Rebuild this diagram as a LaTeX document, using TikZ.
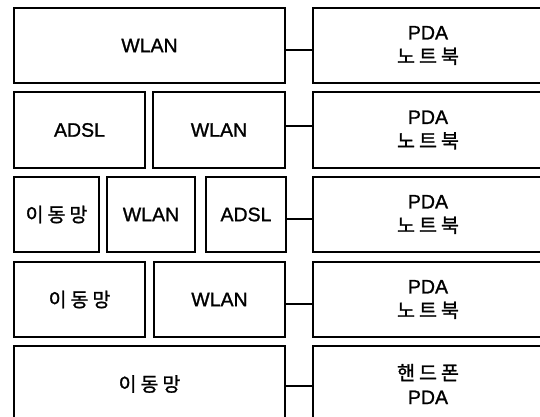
\documentclass[tikz,border=0pt]{standalone}
\usepackage{fontspec}
\setmainfont[FakeBold=1.2]{Liberation Sans}
\newfontfamily\kr[FakeBold=1.2]{Noto Sans CJK KR}
\newcommand{\nb}{{\kr 노\hspace{4pt}트\hspace{4pt}북}}
\newcommand{\idm}{{\kr 이\hspace{4pt}동\hspace{4pt}망}}
\newcommand{\hdp}{{\kr 핸\hspace{4pt}드\hspace{4pt}폰}}
\begin{document}
\begin{tikzpicture}[x=1pt,y=-1pt,
  box/.style={draw=black, line width=1.6pt, inner sep=0pt, align=center,
    font=\fontsize{19.5}{24}\selectfont},
  conn/.style={draw=black, line width=1.4pt}]
\useasboundingbox (0,0) rectangle (540,416);
\clip (0,0) rectangle (540,416);
% row 1
\node[box, minimum width=271pt, minimum height=75pt] (l1) at (149.5,45.5) {WLAN};
\node[box, minimum width=230pt, minimum height=75pt] (r1) at (428,45.5) {PDA\\\nb};
% row 2
\node[box, minimum width=131pt, minimum height=76pt] (l2a) at (79.5,130) {ADSL};
\node[box, minimum width=132pt, minimum height=76pt] (l2b) at (219,130) {WLAN};
\node[box, minimum width=230pt, minimum height=76pt] (r2) at (428,130) {PDA\\\nb};
% row 3
\node[box, minimum width=85pt, minimum height=75pt] (l3a) at (56.5,214.5) {\idm};
\node[box, minimum width=88pt, minimum height=75pt] (l3b) at (151,214.5) {WLAN};
\node[box, minimum width=80pt, minimum height=75pt] (l3c) at (246,214.5) {ADSL};
\node[box, minimum width=230pt, minimum height=75pt] (r3) at (428,214.5) {PDA\\\nb};
% row 4
\node[box, minimum width=131pt, minimum height=75pt] (l4a) at (79.5,299.5) {\idm};
\node[box, minimum width=131pt, minimum height=75pt] (l4b) at (219.5,299.5) {WLAN};
\node[box, minimum width=230pt, minimum height=75pt] (r4) at (428,299.5) {PDA\\\nb};
% row 5
\node[box, minimum width=271pt, minimum height=76pt] (l5) at (149.5,384) {\idm};
\node[box, minimum width=230pt, minimum height=76pt] (r5) at (428,384) {\hdp\\PDA};
% connectors
\draw[conn] ([yshift=-4.5pt]l1.east) -- ([yshift=-4.5pt]l1.east -| r1.west);
\draw[conn] ([yshift=4pt]l2b.east) -- ([yshift=4pt]l2b.east -| r2.west);
\draw[conn] ([yshift=-4.5pt]l3c.east) -- ([yshift=-4.5pt]l3c.east -| r3.west);
\draw[conn] ([yshift=-4.5pt]l4b.east) -- ([yshift=-4.5pt]l4b.east -| r4.west);
\draw[conn] ([yshift=-2pt]l5.east) -- ([yshift=-2pt]l5.east -| r5.west);
\end{tikzpicture}
\end{document}
